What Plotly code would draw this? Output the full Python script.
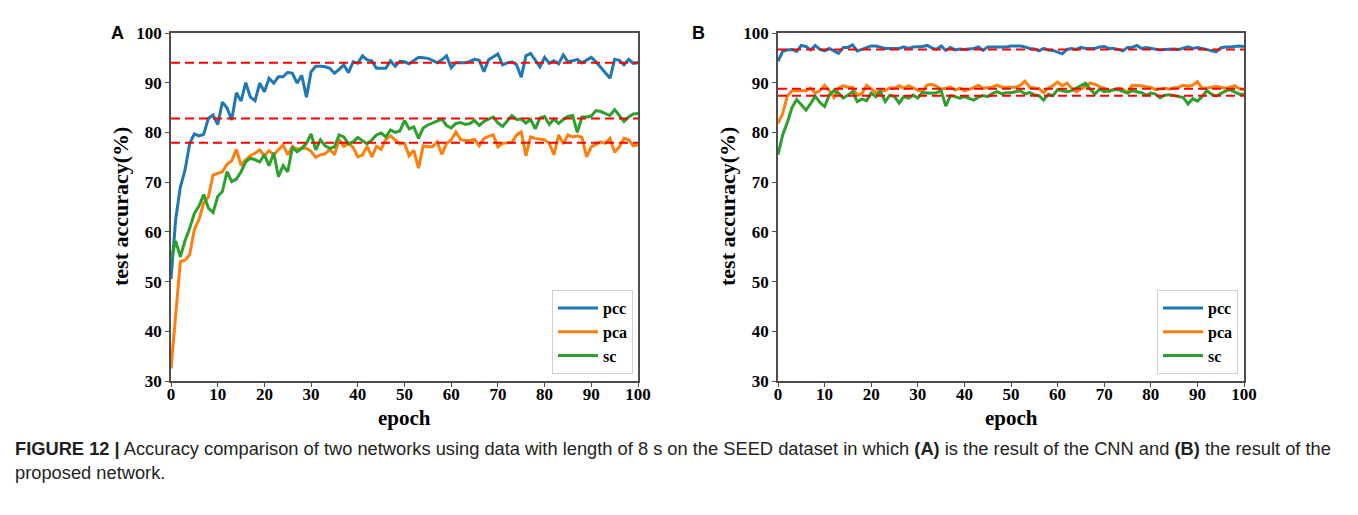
import plotly.graph_objects as go

epochs = list(range(101))

# Panel A (CNN)
pcc_A = [50.5, 62.5, 69.0, 72.4, 77.8, 79.7, 79.3, 79.6, 82.8, 83.5,
         81.6, 86.1, 84.9, 82.5, 88.0, 86.3, 90.0, 87.1, 86.4, 89.9,
         88.2, 90.9, 89.9, 91.2, 91.2, 92.1, 91.9, 89.9, 91.5, 87.1,
         92.2, 93.3, 93.3, 93.2, 92.9, 91.9, 92.7, 93.6, 92.0, 94.2,
         93.9, 95.4, 94.6, 94.4, 92.9, 92.9, 92.9, 94.4, 93.3, 94.3,
         94.2, 93.8, 94.5, 95.1, 95.0, 94.9, 94.5, 94.0, 94.6, 95.4,
         93.0, 94.0, 94.0, 94.0, 94.3, 94.7, 94.5, 92.2, 94.6, 95.2,
         95.8, 93.6, 94.0, 94.2, 93.6, 91.1, 95.4, 95.9, 94.5, 93.2,
         95.1, 93.9, 94.4, 93.8, 95.6, 94.2, 94.4, 94.7, 94.0, 94.5,
         95.1, 94.2, 93.2, 92.0, 90.9, 94.7, 94.5, 93.6, 94.7, 93.9,
         94.0]
pca_A = [32.5, 43.0, 54.0, 54.3, 55.4, 60.5, 62.5, 65.8, 67.0, 71.4,
         71.8, 72.1, 73.6, 74.3, 76.6, 73.4, 74.5, 75.3, 75.8, 76.5,
         75.3, 76.3, 75.5, 76.5, 77.5, 75.5, 77.2, 76.6, 76.8, 76.8,
         76.2, 75.0, 75.5, 75.7, 76.6, 75.5, 78.6, 77.2, 77.8, 77.0,
         75.1, 75.5, 77.2, 75.1, 77.2, 76.6, 78.6, 79.3, 78.5, 77.7,
         77.8, 75.3, 76.4, 72.8, 77.3, 77.1, 77.1, 78.1, 75.6, 77.8,
         78.5, 80.1, 78.6, 78.4, 78.4, 78.6, 77.3, 78.8, 79.2, 79.5,
         77.1, 77.8, 77.9, 78.0, 79.5, 80.1, 75.3, 79.1, 78.8, 78.6,
         78.5, 77.8, 75.5, 79.5, 77.7, 79.5, 79.1, 79.3, 79.0, 75.1,
         77.1, 77.6, 78.1, 77.8, 78.8, 76.0, 77.1, 78.8, 78.5, 77.3,
         77.5]
sc_A = [54.5, 58.2, 55.0, 58.2, 60.7, 63.7, 65.2, 67.5, 64.8, 63.9,
        67.1, 68.1, 72.1, 70.1, 70.6, 72.1, 74.1, 74.8, 74.5, 74.1,
        75.5, 73.3, 75.9, 71.1, 73.3, 72.1, 77.0, 76.1, 76.8, 77.8,
        79.7, 76.5, 78.5, 77.3, 76.8, 77.1, 79.5, 79.1, 77.7, 78.1,
        79.0, 78.3, 77.7, 78.5, 79.5, 79.9, 79.1, 80.5, 80.0, 80.3,
        82.4, 80.7, 81.1, 78.8, 80.9, 81.5, 81.9, 82.2, 82.7, 81.4,
        80.9, 81.8, 82.0, 81.6, 81.8, 82.4, 81.4, 82.2, 82.6, 83.1,
        81.9, 81.2, 82.3, 83.4, 82.6, 82.7, 81.9, 82.6, 80.7, 82.9,
        83.2, 81.6, 82.7, 81.8, 82.6, 83.2, 83.4, 80.0, 83.1, 83.1,
        83.3, 84.4, 84.2, 83.8, 83.4, 84.6, 83.4, 82.2, 83.1, 83.7,
        83.8]
ref_A = [94.0, 82.8, 77.9]

# Panel B (proposed network)
pcc_B = [94.3, 96.3, 96.6, 96.7, 96.3, 97.5, 97.3, 96.6, 97.5, 96.7,
         96.4, 96.9, 96.4, 95.9, 97.1, 97.1, 97.6, 96.4, 96.7, 97.1,
         97.4, 97.4, 97.2, 96.9, 96.9, 96.9, 96.9, 97.2, 96.9, 97.2,
         97.2, 97.3, 97.5, 97.0, 96.7, 97.4, 96.5, 97.1, 96.6, 96.8,
         96.7, 96.8, 96.9, 97.2, 96.5, 97.2, 97.2, 97.2, 97.1, 97.2,
         97.4, 97.4, 97.4, 97.2, 96.9, 96.8, 96.4, 96.9, 96.6, 96.5,
         96.2, 95.8, 96.7, 96.9, 96.7, 97.1, 96.9, 96.9, 96.9, 97.2,
         97.3, 96.9, 96.9, 96.7, 96.4, 97.1, 97.1, 97.5, 96.9, 97.1,
         96.9, 96.7, 96.6, 96.7, 96.8, 96.8, 96.7, 97.0, 97.2, 96.9,
         97.1, 96.9, 96.7, 96.5, 96.2, 97.0, 97.2, 97.2, 97.3, 97.4,
         97.3]
pca_B = [81.8, 83.8, 87.3, 88.4, 88.4, 88.4, 88.4, 88.9, 87.9, 88.4,
         89.5, 88.4, 87.0, 88.9, 89.4, 89.1, 89.1, 87.5, 87.8, 89.5,
         88.7, 88.0, 88.5, 88.4, 89.0, 88.9, 89.4, 88.9, 89.4, 88.9,
         88.5, 88.2, 89.5, 89.7, 89.3, 88.7, 88.9, 89.1, 88.5, 88.9,
         88.4, 88.6, 89.0, 89.5, 88.9, 89.0, 89.1, 89.5, 89.1, 89.1,
         89.1, 89.1, 89.5, 90.3, 89.1, 88.9, 88.8, 88.0, 88.9, 89.4,
         90.1, 89.4, 89.9, 88.9, 88.2, 88.7, 89.3, 89.9, 89.7, 89.2,
         88.9, 88.2, 88.6, 88.9, 88.7, 88.0, 89.5, 89.5, 89.4, 89.2,
         89.1, 88.6, 88.7, 88.9, 88.7, 89.0, 89.1, 89.5, 89.3, 89.5,
         90.2, 88.9, 88.9, 89.1, 89.3, 89.1, 88.9, 89.1, 89.4, 88.8,
         88.5]
sc_B = [75.5, 79.5, 82.0, 85.0, 86.6, 85.5, 84.5, 85.8, 87.3, 86.0,
        85.2, 87.5, 88.4, 87.9, 86.9, 87.5, 88.2, 86.2, 86.7, 86.4,
        87.9, 87.2, 88.2, 86.2, 87.5, 87.2, 85.9, 87.2, 86.9, 87.5,
        86.9, 88.0, 87.9, 87.9, 88.0, 88.4, 85.3, 87.4, 87.2, 86.9,
        87.2, 86.9, 86.5, 87.1, 87.4, 87.2, 87.8, 88.2, 87.8, 88.0,
        88.0, 88.2, 88.4, 87.7, 88.0, 87.6, 87.4, 86.5, 87.7, 87.4,
        88.6, 88.4, 88.2, 88.4, 88.9, 89.3, 89.9, 88.7, 87.7, 88.7,
        88.2, 88.4, 88.6, 88.6, 88.2, 87.9, 88.4, 88.2, 88.0, 87.5,
        87.9, 87.7, 87.0, 87.5, 87.6, 87.4, 87.2, 87.0, 85.7, 86.8,
        86.3, 87.2, 88.4, 87.7, 87.3, 87.8, 88.3, 88.6, 88.2, 87.7,
        87.7]
ref_B = [96.7, 88.8, 87.4]

series_names = ["pcc", "pca", "sc"]
colors = ["#1f77b4", "#ff7f0e", "#2ca02c"]
x_ticks = list(range(0, 101, 10))
y_ticks = list(range(30, 101, 10))

W, H = 1358, 515
def px_x(p): return p / W
def px_y(p): return 1 - p / H

fig = go.Figure()

panels = [
    ("x", "y", "legend", [pcc_A, pca_A, sc_A], ref_A),
    ("x2", "y2", "legend2", [pcc_B, pca_B, sc_B], ref_B),
]
for xa, ya, lg, data, refs in panels:
    for name, vals, col in zip(series_names, data, colors):
        fig.add_trace(go.Scatter(x=epochs, y=vals, mode="lines", name=name,
                                 line=dict(color=col, width=3),
                                 xaxis=xa, yaxis=ya, legend=lg))
    for r in refs:
        fig.add_shape(type="line", xref=f"{xa} domain", yref=ya,
                      x0=0, x1=1, y0=r, y1=r,
                      line=dict(color="#ff0000", width=2, dash="9px,5px"))

serif_bold = dict(family="Liberation Serif", size=17, color="black", weight="bold")
axis_common = dict(range=[0, 100], showline=True, mirror=True, linecolor="#4d4d4d",
                   linewidth=1.5, ticks="outside", ticklen=4, tickcolor="#4d4d4d",
                   tickwidth=1.2, showgrid=False, zeroline=False, tickfont=serif_bold,
                   tickvals=x_ticks, automargin=False, ticklabelstandoff=-7)
yaxis_common = dict(range=[30, 100], showline=True, mirror=True, linecolor="#4d4d4d",
                    linewidth=1.5, ticks="outside", ticklen=4, tickcolor="#4d4d4d",
                    tickwidth=1.2, showgrid=False, zeroline=False, tickfont=serif_bold,
                    tickvals=y_ticks, automargin=False)

legend_font = dict(family="Liberation Serif", size=16, color="black", weight="bold")
ydom = [px_y(381), px_y(33)]
fig.update_layout(
    width=W, height=H, autosize=False,
    margin=dict(l=0, r=0, t=0, b=0, pad=0, autoexpand=False),
    paper_bgcolor="white", plot_bgcolor="white",
    xaxis=dict(domain=[px_x(171), px_x(638)], anchor="y", **axis_common),
    yaxis=dict(domain=ydom, anchor="x", **yaxis_common),
    xaxis2=dict(domain=[px_x(778), px_x(1244)], anchor="y2", **axis_common),
    yaxis2=dict(domain=ydom, anchor="x2", **yaxis_common),
    legend=dict(x=px_x(633), y=px_y(374), xanchor="right", yanchor="bottom",
                bgcolor="white", bordercolor="#d0d0d0", borderwidth=1,
                font=legend_font, itemwidth=40, tracegroupgap=0),
    legend2=dict(x=px_x(1238), y=px_y(374), xanchor="right", yanchor="bottom",
                 bgcolor="white", bordercolor="#d0d0d0", borderwidth=1,
                 font=legend_font, itemwidth=40, tracegroupgap=0),
    showlegend=True,
)

title_font = dict(family="Liberation Serif", size=21, color="black", weight="bold")
annots = [
    dict(text="epoch", x=px_x(404.5), y=px_y(418), xanchor="center", yanchor="middle"),
    dict(text="epoch", x=px_x(1011), y=px_y(418), xanchor="center", yanchor="middle"),
    dict(text="test accuracy(%)", x=px_x(120), y=px_y(207), textangle=-90,
         xanchor="center", yanchor="middle", font=dict(family="Liberation Serif", size=22,
                                                       color="black", weight="bold")),
    dict(text="test accuracy(%)", x=px_x(727), y=px_y(207), textangle=-90,
         xanchor="center", yanchor="middle", font=dict(family="Liberation Serif", size=22,
                                                       color="black", weight="bold")),
]
for a in annots:
    a.setdefault("font", title_font)
    fig.add_annotation(xref="paper", yref="paper", showarrow=False, **a)

panel_font = dict(family="Liberation Sans", size=18, color="black", weight="bold")
fig.add_annotation(text="A", x=px_x(117), y=px_y(33), xref="paper", yref="paper",
                   showarrow=False, font=panel_font, xanchor="center", yanchor="middle")
fig.add_annotation(text="B", x=px_x(699), y=px_y(33), xref="paper", yref="paper",
                   showarrow=False, font=panel_font, xanchor="center", yanchor="middle")

caption = ("<b>FIGURE 12 |</b> Accuracy comparison of two networks using data with length of 8 s "
           "on the SEED dataset in which <b>(A)</b> is the result of the CNN and <b>(B)</b> the result of the"
           "<br>proposed network.")
fig.add_annotation(text=caption, x=px_x(13), y=px_y(436), xref="paper", yref="paper",
                   showarrow=False, align="left", xanchor="left", yanchor="top",
                   font=dict(family="Liberation Sans", size=18.3, color="#231f20"))

fig.write_html("out.html")
